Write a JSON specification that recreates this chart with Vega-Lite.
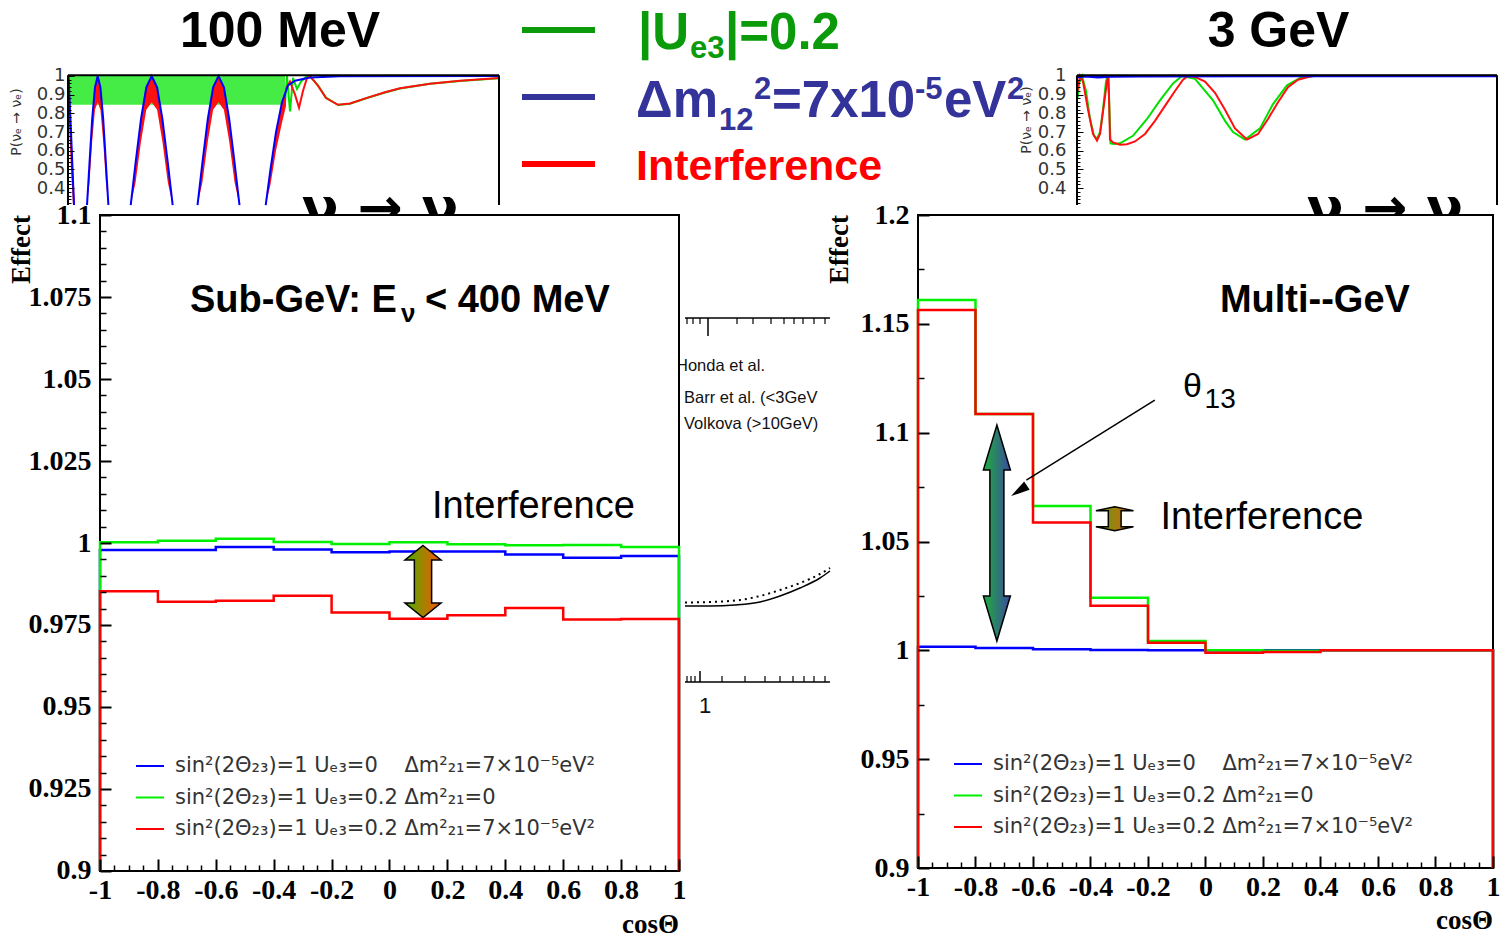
{
"$schema": "https://vega.github.io/schema/vega-lite/v6.json",
"width": 1505, "height": 938, "padding": 0, "autosize": {"type": "none"},
"background": "white",
"config": {"view": {"stroke": null}, "axis": {"zindex": 1}},
"resolve": {"scale": {"x": "independent", "y": "independent", "color": "independent"}, "axis": {"x": "independent", "y": "independent"}, "legend": {"color": "independent"}},
"datasets": {
 "ilBlue": [
  {"seg":"b0","t":0.0012,"v":1.0},{"seg":"b0","t":0.007,"v":0.7},{"seg":"b0","t":0.0139,"v":0.31},
  {"seg":"b1","t":0.0441,"v":0.31},{"seg":"b1","t":0.0499,"v":0.535},{"seg":"b1","t":0.0561,"v":0.77},{"seg":"b1","t":0.0626,"v":0.939},{"seg":"b1","t":0.0689,"v":1.0},{"seg":"b1","t":0.0752,"v":0.939},{"seg":"b1","t":0.0817,"v":0.77},{"seg":"b1","t":0.0879,"v":0.535},{"seg":"b1","t":0.0937,"v":0.31},
  {"seg":"b2","t":0.1455,"v":0.31},{"seg":"b2","t":0.1568,"v":0.535},{"seg":"b2","t":0.1694,"v":0.77},{"seg":"b2","t":0.1817,"v":0.939},{"seg":"b2","t":0.1942,"v":1.0},{"seg":"b2","t":0.2067,"v":0.939},{"seg":"b2","t":0.219,"v":0.77},{"seg":"b2","t":0.2316,"v":0.535},{"seg":"b2","t":0.2429,"v":0.31},
  {"seg":"b3","t":0.3005,"v":0.31},{"seg":"b3","t":0.3118,"v":0.535},{"seg":"b3","t":0.3244,"v":0.77},{"seg":"b3","t":0.3367,"v":0.939},{"seg":"b3","t":0.3492,"v":1.0},{"seg":"b3","t":0.3617,"v":0.939},{"seg":"b3","t":0.374,"v":0.77},{"seg":"b3","t":0.3865,"v":0.535},{"seg":"b3","t":0.3979,"v":0.31},
  {"seg":"b4","t":0.4587,"v":0.31},{"seg":"b4","t":0.4698,"v":0.5},{"seg":"b4","t":0.4826,"v":0.7},{"seg":"b4","t":0.4965,"v":0.86},{"seg":"b4","t":0.5104,"v":0.95},{"seg":"b4","t":0.5267,"v":0.975},{"seg":"b4","t":0.5615,"v":0.992},{"seg":"b4","t":0.6311,"v":0.999},{"seg":"b4","t":1.0,"v":1.0}
 ],
 "ilRedArea": [
  {"seg":"r1","t":0.0441,"hi":0.31,"lo":0.31},{"seg":"r1","t":0.0499,"hi":0.535,"lo":0.43},{"seg":"r1","t":0.0561,"hi":0.77,"lo":0.65},{"seg":"r1","t":0.0626,"hi":0.939,"lo":0.82},{"seg":"r1","t":0.0689,"hi":1.0,"lo":0.86},{"seg":"r1","t":0.0752,"hi":0.939,"lo":0.82},{"seg":"r1","t":0.0817,"hi":0.77,"lo":0.65},{"seg":"r1","t":0.0879,"hi":0.535,"lo":0.43},{"seg":"r1","t":0.0937,"hi":0.31,"lo":0.31},
  {"seg":"r2","t":0.1455,"hi":0.31,"lo":0.31},{"seg":"r2","t":0.1568,"hi":0.535,"lo":0.43},{"seg":"r2","t":0.1694,"hi":0.77,"lo":0.65},{"seg":"r2","t":0.1817,"hi":0.939,"lo":0.82},{"seg":"r2","t":0.1942,"hi":1.0,"lo":0.86},{"seg":"r2","t":0.2067,"hi":0.939,"lo":0.82},{"seg":"r2","t":0.219,"hi":0.77,"lo":0.65},{"seg":"r2","t":0.2316,"hi":0.535,"lo":0.43},{"seg":"r2","t":0.2429,"hi":0.31,"lo":0.31},
  {"seg":"r3","t":0.3005,"hi":0.31,"lo":0.31},{"seg":"r3","t":0.3118,"hi":0.535,"lo":0.43},{"seg":"r3","t":0.3244,"hi":0.77,"lo":0.65},{"seg":"r3","t":0.3367,"hi":0.939,"lo":0.82},{"seg":"r3","t":0.3492,"hi":1.0,"lo":0.86},{"seg":"r3","t":0.3617,"hi":0.939,"lo":0.82},{"seg":"r3","t":0.374,"hi":0.77,"lo":0.65},{"seg":"r3","t":0.3865,"hi":0.535,"lo":0.43},{"seg":"r3","t":0.3979,"hi":0.31,"lo":0.31},
  {"seg":"r4","t":0.4587,"hi":0.31,"lo":0.31},{"seg":"r4","t":0.4698,"hi":0.5,"lo":0.42},{"seg":"r4","t":0.4826,"hi":0.7,"lo":0.6},{"seg":"r4","t":0.4965,"hi":0.86,"lo":0.75},{"seg":"r4","t":0.5058,"hi":0.93,"lo":0.84}
 ],
 "ilRedLine": [
  {"seg":"r0","t":0.0012,"v":0.98},{"seg":"r0","t":0.0046,"v":0.75},{"seg":"r0","t":0.0093,"v":0.5},{"seg":"r0","t":0.0139,"v":0.31},
  {"seg":"rt","t":0.5058,"v":0.93},{"seg":"rt","t":0.5151,"v":0.97},{"seg":"rt","t":0.5267,"v":0.9},{"seg":"rt","t":0.536,"v":0.83},{"seg":"rt","t":0.5452,"v":0.92},{"seg":"rt","t":0.5545,"v":0.99},{"seg":"rt","t":0.5615,"v":1.0},{"seg":"rt","t":0.58,"v":0.948},{"seg":"rt","t":0.5986,"v":0.882},{"seg":"rt","t":0.6265,"v":0.846},{"seg":"rt","t":0.6543,"v":0.853},{"seg":"rt","t":0.6937,"v":0.883},{"seg":"rt","t":0.7355,"v":0.913},{"seg":"rt","t":0.7703,"v":0.934},{"seg":"rt","t":0.8399,"v":0.959},{"seg":"rt","t":0.9095,"v":0.974},{"seg":"rt","t":1.0,"v":0.989}
 ],
 "ilGreen": [
  {"t":0.5035,"v":0.85},{"t":0.5081,"v":1.0},{"t":0.5151,"v":0.81},{"t":0.522,"v":0.99},{"t":0.5313,"v":0.93},{"t":0.5406,"v":0.97},{"t":0.5522,"v":0.995},{"t":0.5615,"v":1.0},{"t":0.58,"v":0.95},{"t":0.5986,"v":0.885},{"t":0.6265,"v":0.845},{"t":0.6543,"v":0.852},{"t":0.6937,"v":0.882},{"t":0.7355,"v":0.912},{"t":0.7703,"v":0.933},{"t":0.8399,"v":0.958},{"t":0.9095,"v":0.973},{"t":1.0,"v":0.988}
 ],
 "irGreen": [
  {"t":0.0012,"v":0.88},{"t":0.0048,"v":0.96},{"t":0.0119,"v":1.0},{"t":0.0214,"v":0.92},{"t":0.031,"v":0.77},{"t":0.0405,"v":0.68},{"t":0.0476,"v":0.665},{"t":0.0548,"v":0.7},{"t":0.0619,"v":0.82},{"t":0.069,"v":0.97},{"t":0.0726,"v":1.0},{"t":0.0762,"v":0.9},{"t":0.0798,"v":0.64},{"t":0.0881,"v":0.637},{"t":0.1024,"v":0.64},{"t":0.1333,"v":0.68},{"t":0.1667,"v":0.77},{"t":0.1976,"v":0.87},{"t":0.2286,"v":0.96},{"t":0.25,"v":1.0},{"t":0.281,"v":0.985},{"t":0.3238,"v":0.87},{"t":0.3524,"v":0.76},{"t":0.3714,"v":0.7},{"t":0.4,"v":0.66},{"t":0.4357,"v":0.72},{"t":0.4667,"v":0.85},{"t":0.5,"v":0.95},{"t":0.531,"v":0.99},{"t":0.5667,"v":1.0},{"t":1.0,"v":1.0}
 ],
 "irRed": [
  {"t":0.0012,"v":0.92},{"t":0.0071,"v":1.0},{"t":0.0143,"v":0.97},{"t":0.0262,"v":0.82},{"t":0.0381,"v":0.69},{"t":0.0476,"v":0.655},{"t":0.0548,"v":0.69},{"t":0.0643,"v":0.85},{"t":0.0714,"v":0.97},{"t":0.075,"v":1.0},{"t":0.0786,"v":0.66},{"t":0.0857,"v":0.645},{"t":0.1024,"v":0.632},{"t":0.119,"v":0.635},{"t":0.1381,"v":0.65},{"t":0.1619,"v":0.69},{"t":0.1857,"v":0.76},{"t":0.2095,"v":0.84},{"t":0.2333,"v":0.92},{"t":0.2524,"v":0.98},{"t":0.2643,"v":1.0},{"t":0.281,"v":0.995},{"t":0.3048,"v":0.97},{"t":0.3286,"v":0.91},{"t":0.3524,"v":0.82},{"t":0.3762,"v":0.72},{"t":0.4048,"v":0.66},{"t":0.431,"v":0.69},{"t":0.4548,"v":0.77},{"t":0.4786,"v":0.86},{"t":0.5024,"v":0.94},{"t":0.5262,"v":0.98},{"t":0.5595,"v":1.0},{"t":1.0,"v":1.0}
 ],
 "irBlue": [
  {"t":0.0012,"v":0.995},{"t":0.02,"v":0.998},{"t":0.05,"v":0.993},{"t":0.08,"v":0.997},{"t":0.15,"v":0.999},{"t":1.0,"v":1.0}
 ],
 "pL": [
  {"s":"A","k":0,"x":-1,"y":0.9},{"s":"A","k":1,"x":-1,"y":0.9979},{"s":"A","k":2,"x":-0.8,"y":0.9979},{"s":"A","k":3,"x":-0.6,"y":0.9988},{"s":"A","k":4,"x":-0.4,"y":0.998},{"s":"A","k":5,"x":-0.2,"y":0.9972},{"s":"A","k":6,"x":0,"y":0.9974},{"s":"A","k":7,"x":0.2,"y":0.9974},{"s":"A","k":8,"x":0.4,"y":0.9965},{"s":"A","k":9,"x":0.6,"y":0.9955},{"s":"A","k":10,"x":0.8,"y":0.996},{"s":"A","k":11,"x":1,"y":0.996},{"s":"A","k":12,"x":1,"y":0.9},
  {"s":"B","k":0,"x":-1,"y":0.9},{"s":"B","k":1,"x":-1,"y":1.0002},{"s":"B","k":2,"x":-0.8,"y":1.0007},{"s":"B","k":3,"x":-0.6,"y":1.0013},{"s":"B","k":4,"x":-0.4,"y":1.0003},{"s":"B","k":5,"x":-0.2,"y":0.9997},{"s":"B","k":6,"x":0,"y":1.0002},{"s":"B","k":7,"x":0.2,"y":0.9996},{"s":"B","k":8,"x":0.4,"y":0.9993},{"s":"B","k":9,"x":0.6,"y":0.9994},{"s":"B","k":10,"x":0.8,"y":0.9988},{"s":"B","k":11,"x":1,"y":0.9988},{"s":"B","k":12,"x":1,"y":0.9},
  {"s":"C","k":0,"x":-1,"y":0.9},{"s":"C","k":1,"x":-1,"y":0.9853},{"s":"C","k":2,"x":-0.8,"y":0.9821},{"s":"C","k":3,"x":-0.6,"y":0.9824},{"s":"C","k":4,"x":-0.4,"y":0.9839},{"s":"C","k":5,"x":-0.2,"y":0.9788},{"s":"C","k":6,"x":0,"y":0.9769},{"s":"C","k":7,"x":0.2,"y":0.978},{"s":"C","k":8,"x":0.4,"y":0.9802},{"s":"C","k":9,"x":0.6,"y":0.9767},{"s":"C","k":10,"x":0.8,"y":0.9768},{"s":"C","k":11,"x":1,"y":0.9768},{"s":"C","k":12,"x":1,"y":0.9}
 ],
 "pR": [
  {"s":"A","k":0,"x":-1,"y":0.9},{"s":"A","k":1,"x":-1,"y":1.0017},{"s":"A","k":2,"x":-0.8,"y":1.0011},{"s":"A","k":3,"x":-0.6,"y":1.0005},{"s":"A","k":4,"x":-0.4,"y":1.0002},{"s":"A","k":5,"x":-0.2,"y":1.0},{"s":"A","k":6,"x":0,"y":1.0},{"s":"A","k":7,"x":0.2,"y":1.0},{"s":"A","k":8,"x":0.4,"y":1.0},{"s":"A","k":9,"x":0.6,"y":1.0},{"s":"A","k":10,"x":0.8,"y":1.0},{"s":"A","k":11,"x":1,"y":1.0},{"s":"A","k":12,"x":1,"y":0.9},
  {"s":"B","k":0,"x":-1,"y":0.9},{"s":"B","k":1,"x":-1,"y":1.161},{"s":"B","k":2,"x":-0.8,"y":1.1086},{"s":"B","k":3,"x":-0.6,"y":1.0663},{"s":"B","k":4,"x":-0.4,"y":1.0242},{"s":"B","k":5,"x":-0.2,"y":1.0043},{"s":"B","k":6,"x":0,"y":1.0},{"s":"B","k":7,"x":0.2,"y":0.9998},{"s":"B","k":8,"x":0.4,"y":1.0},{"s":"B","k":9,"x":0.6,"y":1.0},{"s":"B","k":10,"x":0.8,"y":1.0},{"s":"B","k":11,"x":1,"y":1.0},{"s":"B","k":12,"x":1,"y":0.9},
  {"s":"C","k":0,"x":-1,"y":0.9},{"s":"C","k":1,"x":-1,"y":1.1563},{"s":"C","k":2,"x":-0.8,"y":1.1086},{"s":"C","k":3,"x":-0.6,"y":1.0587},{"s":"C","k":4,"x":-0.4,"y":1.0205},{"s":"C","k":5,"x":-0.2,"y":1.0035},{"s":"C","k":6,"x":0,"y":0.9989},{"s":"C","k":7,"x":0.2,"y":0.9992},{"s":"C","k":8,"x":0.4,"y":1.0},{"s":"C","k":9,"x":0.6,"y":1.0},{"s":"C","k":10,"x":0.8,"y":1.0},{"s":"C","k":11,"x":1,"y":1.0},{"s":"C","k":12,"x":1,"y":0.9}
 ],
 "fragSolid": [{"fx":68.5,"fy":60.6},{"fx":71,"fy":60.6},{"fx":73.5,"fy":60.5},{"fx":76,"fy":60.2},{"fx":78,"fy":59.6},{"fx":80,"fy":58.8},{"fx":82,"fy":57.8},{"fx":83,"fy":57.1}],
 "fragDot": [{"fx":68.5,"fy":60.25},{"fx":71,"fy":60.2},{"fx":74,"fy":60.0},{"fx":76,"fy":59.6},{"fx":78,"fy":59.0},{"fx":80,"fy":58.3},{"fx":82,"fy":57.4},{"fx":83,"fy":56.8}],
 "fragTop": [{"fx":68.7},{"fx":69.3},{"fx":70.0},{"fx":73.7},{"fx":75.3},{"fx":77.1},{"fx":78.4},{"fx":79.4},{"fx":80.3},{"fx":81.4},{"fx":82.5}],
 "fragBot": [{"fx":68.7},{"fx":69.1},{"fx":69.5},{"fx":72.2},{"fx":74.5},{"fx":76.5},{"fx":78.0},{"fx":79.3},{"fx":80.4},{"fx":81.4},{"fx":82.5}]
},
"layer": [
 {
  "resolve": {"axis": {"x": "independent", "y": "independent"}},
  "layer": [
   {"data": {"values": [{}]}, "mark": {"type": "rect", "fill": "#45ec45"},
    "encoding": {"x": {"datum": 0.0015, "type": "quantitative", "scale": {"domain": [-0.15777, 3.33411], "nice": false, "zero": false}, "axis": null}, "x2": {"datum": 0.5035},
     "y": {"datum": 0.846, "type": "quantitative", "scale": {"domain": [-3.6096, 1.4064], "nice": false, "zero": false}, "axis": null}, "y2": {"datum": 1.0}}},
   {"data": {"name": "ilGreen"}, "mark": {"type": "line", "color": "#00e000", "strokeWidth": 2},
    "encoding": {"x": {"field": "t", "type": "quantitative", "scale": {"domain": [-0.15777, 3.33411], "nice": false, "zero": false}, "axis": null},
     "y": {"field": "v", "type": "quantitative", "scale": {"domain": [-3.6096, 1.4064], "nice": false, "zero": false}, "axis": null}}},
   {"data": {"name": "ilRedArea"}, "mark": {"type": "area", "color": "#ff1010"},
    "encoding": {"x": {"field": "t", "type": "quantitative", "scale": {"domain": [-0.15777, 3.33411], "nice": false, "zero": false}, "axis": null},
     "y": {"field": "hi", "type": "quantitative", "scale": {"domain": [-3.6096, 1.4064], "nice": false, "zero": false}, "axis": null}, "y2": {"field": "lo"}, "detail": {"field": "seg"}}},
   {"data": {"name": "ilRedLine"}, "mark": {"type": "line", "color": "#ff1010", "strokeWidth": 2},
    "encoding": {"x": {"field": "t", "type": "quantitative", "scale": {"domain": [-0.15777, 3.33411], "nice": false, "zero": false}, "axis": null},
     "y": {"field": "v", "type": "quantitative", "scale": {"domain": [-3.6096, 1.4064], "nice": false, "zero": false}, "axis": null}, "detail": {"field": "seg"}}},
   {"data": {"name": "ilBlue"}, "mark": {"type": "line", "color": "#0000ff", "strokeWidth": 2},
    "encoding": {"x": {"field": "t", "type": "quantitative", "scale": {"domain": [-0.15777, 3.33411], "nice": false, "zero": false}, "axis": null},
     "y": {"field": "v", "type": "quantitative", "scale": {"domain": [-3.6096, 1.4064], "nice": false, "zero": false}, "axis": null}, "detail": {"field": "seg"}}},
   {"data": {"values": [{}]}, "mark": {"type": "rule", "color": "black", "strokeWidth": 2},
    "encoding": {"x": {"datum": 0, "type": "quantitative", "scale": {"domain": [-0.15777, 3.33411], "nice": false, "zero": false}, "axis": null}, "x2": {"datum": 1},
     "y": {"datum": 1.004, "type": "quantitative", "scale": {"domain": [-3.6096, 1.4064], "nice": false, "zero": false}, "axis": null}}},
   {"data": {"values": [{}]}, "mark": {"type": "rule", "color": "black", "strokeWidth": 2},
    "encoding": {"x": {"datum": 1, "type": "quantitative", "scale": {"domain": [-0.15777, 3.33411], "nice": false, "zero": false}, "axis": null},
     "y": {"datum": 0.31, "type": "quantitative", "scale": {"domain": [-3.6096, 1.4064], "nice": false, "zero": false},
       "axis": {"orient": "left", "offset": -68, "zindex": 2, "values": [0.32,0.34,0.36,0.38,0.42,0.44,0.46,0.48,0.52,0.54,0.56,0.58,0.62,0.64,0.66,0.68,0.72,0.74,0.76,0.78,0.82,0.84,0.86,0.88,0.92,0.94,0.96,0.98], "labels": false, "tickSize": -3, "tickWidth": 1, "tickColor": "black", "domain": false, "grid": false, "title": null}},
     "y2": {"datum": 1.004}}},
   {"data": {"values": [{}]}, "mark": {"type": "rule", "color": "black", "strokeWidth": 2},
    "encoding": {"x": {"datum": 0, "type": "quantitative", "scale": {"domain": [-0.15777, 3.33411], "nice": false, "zero": false}, "axis": null},
     "y": {"datum": 0.31, "type": "quantitative", "scale": {"domain": [-3.6096, 1.4064], "nice": false, "zero": false},
       "axis": {"orient": "left", "offset": -68, "zindex": 2, "values": [0.4,0.5,0.6,0.7,0.8,0.9,1], "labelExpr": "'' + datum.value", "tickSize": -6, "tickWidth": 1, "tickColor": "black", "labelFont": "DejaVu Sans", "labelFontSize": 18, "labelColor": "#333333", "labelPadding": 9, "labelFlush": false, "labelOverlap": false, "domain": false, "grid": false, "title": null}},
     "y2": {"datum": 1.004}}},
   {"data": {"values": [{}]}, "mark": {"type": "text", "text": "ν → ν", "font": "DejaVu Sans", "fontWeight": "bold", "fontSize": 54, "align": "center", "baseline": "alphabetic", "color": "black"},
    "encoding": {"x": {"datum": 0.724, "type": "quantitative", "scale": {"domain": [-0.15777, 3.33411], "nice": false, "zero": false}, "axis": null},
     "y": {"datum": 0.2, "type": "quantitative", "scale": {"domain": [-3.6096, 1.4064], "nice": false, "zero": false}, "axis": null}}}
  ]
 },
 {
  "resolve": {"axis": {"x": "independent", "y": "independent"}},
  "layer": [
   {"data": {"name": "irGreen"}, "mark": {"type": "line", "color": "#00e000", "strokeWidth": 2},
    "encoding": {"x": {"field": "t", "type": "quantitative", "scale": {"domain": [-2.56429, 1.01905], "nice": false, "zero": false}, "axis": null},
     "y": {"field": "v", "type": "quantitative", "scale": {"domain": [-3.6096, 1.4064], "nice": false, "zero": false}, "axis": null}}},
   {"data": {"name": "irRed"}, "mark": {"type": "line", "color": "#ff1010", "strokeWidth": 2},
    "encoding": {"x": {"field": "t", "type": "quantitative", "scale": {"domain": [-2.56429, 1.01905], "nice": false, "zero": false}, "axis": null},
     "y": {"field": "v", "type": "quantitative", "scale": {"domain": [-3.6096, 1.4064], "nice": false, "zero": false}, "axis": null}}},
   {"data": {"name": "irBlue"}, "mark": {"type": "line", "color": "#0000ff", "strokeWidth": 2.5},
    "encoding": {"x": {"field": "t", "type": "quantitative", "scale": {"domain": [-2.56429, 1.01905], "nice": false, "zero": false}, "axis": null},
     "y": {"field": "v", "type": "quantitative", "scale": {"domain": [-3.6096, 1.4064], "nice": false, "zero": false}, "axis": null}}},
   {"data": {"values": [{}]}, "mark": {"type": "rule", "color": "black", "strokeWidth": 2},
    "encoding": {"x": {"datum": 0, "type": "quantitative", "scale": {"domain": [-2.56429, 1.01905], "nice": false, "zero": false}, "axis": null}, "x2": {"datum": 1},
     "y": {"datum": 1.004, "type": "quantitative", "scale": {"domain": [-3.6096, 1.4064], "nice": false, "zero": false}, "axis": null}}},
   {"data": {"values": [{}]}, "mark": {"type": "rule", "color": "black", "strokeWidth": 2},
    "encoding": {"x": {"datum": 1, "type": "quantitative", "scale": {"domain": [-2.56429, 1.01905], "nice": false, "zero": false}, "axis": null},
     "y": {"datum": 0.31, "type": "quantitative", "scale": {"domain": [-3.6096, 1.4064], "nice": false, "zero": false},
       "axis": {"orient": "left", "offset": -1077, "zindex": 2, "values": [0.32,0.34,0.36,0.38,0.42,0.44,0.46,0.48,0.52,0.54,0.56,0.58,0.62,0.64,0.66,0.68,0.72,0.74,0.76,0.78,0.82,0.84,0.86,0.88,0.92,0.94,0.96,0.98], "labels": false, "tickSize": -3, "tickWidth": 1, "tickColor": "black", "domain": false, "grid": false, "title": null}},
     "y2": {"datum": 1.004}}},
   {"data": {"values": [{}]}, "mark": {"type": "rule", "color": "black", "strokeWidth": 2},
    "encoding": {"x": {"datum": 0, "type": "quantitative", "scale": {"domain": [-2.56429, 1.01905], "nice": false, "zero": false}, "axis": null},
     "y": {"datum": 0.31, "type": "quantitative", "scale": {"domain": [-3.6096, 1.4064], "nice": false, "zero": false},
       "axis": {"orient": "left", "offset": -1077, "zindex": 2, "values": [0.4,0.5,0.6,0.7,0.8,0.9,1], "labelExpr": "'' + datum.value", "tickSize": -6, "tickWidth": 1, "tickColor": "black", "labelFont": "DejaVu Sans", "labelFontSize": 18, "labelColor": "#333333", "labelPadding": 17, "labelFlush": false, "labelOverlap": false, "domain": false, "grid": false, "title": null}},
     "y2": {"datum": 1.004}}},
   {"data": {"values": [{}]}, "mark": {"type": "text", "text": "ν → ν", "font": "DejaVu Sans", "fontWeight": "bold", "fontSize": 54, "align": "center", "baseline": "alphabetic", "color": "black"},
    "encoding": {"x": {"datum": 0.733, "type": "quantitative", "scale": {"domain": [-2.56429, 1.01905], "nice": false, "zero": false}, "axis": null},
     "y": {"datum": 0.2, "type": "quantitative", "scale": {"domain": [-3.6096, 1.4064], "nice": false, "zero": false}, "axis": null}}}
  ]
 },
 {
  "layer": [
   {"data": {"values": [{}]}, "mark": {"type": "text", "text": "100 MeV", "font": "Liberation Sans", "fontWeight": "bold", "fontSize": 50, "align": "center", "baseline": "alphabetic", "color": "black"},
    "encoding": {"x": {"datum": 28.0, "type": "quantitative", "scale": {"domain": [0, 150.5], "nice": false, "zero": false}, "axis": null},
     "y": {"datum": 4.7, "type": "quantitative", "scale": {"domain": [0, 93.8], "nice": false, "zero": false, "reverse": true}, "axis": null}}},
   {"data": {"values": [{}]}, "mark": {"type": "text", "text": "3 GeV", "font": "Liberation Sans", "fontWeight": "bold", "fontSize": 50, "align": "center", "baseline": "alphabetic", "color": "black"},
    "encoding": {"x": {"datum": 127.85, "type": "quantitative", "axis": null}, "y": {"datum": 4.7, "type": "quantitative", "axis": null}}},
   {"data": {"values": [{}]}, "mark": {"type": "rule", "color": "#0a9a0a", "strokeWidth": 6},
    "encoding": {"x": {"datum": 52.2, "type": "quantitative", "axis": null}, "x2": {"datum": 59.5}, "y": {"datum": 3.0, "type": "quantitative", "axis": null}}},
   {"data": {"values": [{}]}, "mark": {"type": "rule", "color": "#333399", "strokeWidth": 6},
    "encoding": {"x": {"datum": 52.2, "type": "quantitative", "axis": null}, "x2": {"datum": 59.5}, "y": {"datum": 9.7, "type": "quantitative", "axis": null}}},
   {"data": {"values": [{}]}, "mark": {"type": "rule", "color": "#ff0000", "strokeWidth": 6},
    "encoding": {"x": {"datum": 52.2, "type": "quantitative", "axis": null}, "x2": {"datum": 59.5}, "y": {"datum": 16.4, "type": "quantitative", "axis": null}}},
   {"data": {"values": [{}]}, "mark": {"type": "text", "text": "|U", "font": "Liberation Sans", "fontWeight": "bold", "fontSize": 51, "align": "left", "baseline": "alphabetic", "color": "#0a9a0a"},
    "encoding": {"x": {"datum": 63.8, "type": "quantitative", "axis": null}, "y": {"datum": 4.9, "type": "quantitative", "axis": null}}},
   {"data": {"values": [{}]}, "mark": {"type": "text", "text": "e3", "font": "Liberation Sans", "fontWeight": "bold", "fontSize": 31, "align": "left", "baseline": "alphabetic", "color": "#0a9a0a"},
    "encoding": {"x": {"datum": 69.0, "type": "quantitative", "axis": null}, "y": {"datum": 5.8, "type": "quantitative", "axis": null}}},
   {"data": {"values": [{}]}, "mark": {"type": "text", "text": "|=0.2", "font": "Liberation Sans", "fontWeight": "bold", "fontSize": 51, "align": "left", "baseline": "alphabetic", "color": "#0a9a0a"},
    "encoding": {"x": {"datum": 72.5, "type": "quantitative", "axis": null}, "y": {"datum": 4.9, "type": "quantitative", "axis": null}}},
   {"data": {"values": [{}]}, "mark": {"type": "text", "text": "Δm", "font": "Liberation Sans", "fontWeight": "bold", "fontSize": 51, "align": "left", "baseline": "alphabetic", "color": "#333399"},
    "encoding": {"x": {"datum": 63.6, "type": "quantitative", "axis": null}, "y": {"datum": 11.7, "type": "quantitative", "axis": null}}},
   {"data": {"values": [{}]}, "mark": {"type": "text", "text": "12", "font": "Liberation Sans", "fontWeight": "bold", "fontSize": 31, "align": "left", "baseline": "alphabetic", "color": "#333399"},
    "encoding": {"x": {"datum": 71.9, "type": "quantitative", "axis": null}, "y": {"datum": 13.0, "type": "quantitative", "axis": null}}},
   {"data": {"values": [{}]}, "mark": {"type": "text", "text": "2", "font": "Liberation Sans", "fontWeight": "bold", "fontSize": 31, "align": "left", "baseline": "alphabetic", "color": "#333399"},
    "encoding": {"x": {"datum": 75.4, "type": "quantitative", "axis": null}, "y": {"datum": 9.9, "type": "quantitative", "axis": null}}},
   {"data": {"values": [{}]}, "mark": {"type": "text", "text": "=7x10", "font": "Liberation Sans", "fontWeight": "bold", "fontSize": 51, "align": "left", "baseline": "alphabetic", "color": "#333399"},
    "encoding": {"x": {"datum": 77.2, "type": "quantitative", "axis": null}, "y": {"datum": 11.7, "type": "quantitative", "axis": null}}},
   {"data": {"values": [{}]}, "mark": {"type": "text", "text": "-5", "font": "Liberation Sans", "fontWeight": "bold", "fontSize": 31, "align": "left", "baseline": "alphabetic", "color": "#333399"},
    "encoding": {"x": {"datum": 91.5, "type": "quantitative", "axis": null}, "y": {"datum": 9.9, "type": "quantitative", "axis": null}}},
   {"data": {"values": [{}]}, "mark": {"type": "text", "text": "eV", "font": "Liberation Sans", "fontWeight": "bold", "fontSize": 51, "align": "left", "baseline": "alphabetic", "color": "#333399"},
    "encoding": {"x": {"datum": 94.4, "type": "quantitative", "axis": null}, "y": {"datum": 11.7, "type": "quantitative", "axis": null}}},
   {"data": {"values": [{}]}, "mark": {"type": "text", "text": "2", "font": "Liberation Sans", "fontWeight": "bold", "fontSize": 31, "align": "left", "baseline": "alphabetic", "color": "#333399"},
    "encoding": {"x": {"datum": 100.7, "type": "quantitative", "axis": null}, "y": {"datum": 9.9, "type": "quantitative", "axis": null}}},
   {"data": {"values": [{}]}, "mark": {"type": "text", "text": "Interference", "font": "Liberation Sans", "fontWeight": "bold", "fontSize": 43, "align": "left", "baseline": "alphabetic", "color": "#ff0000"},
    "encoding": {"x": {"datum": 63.6, "type": "quantitative", "axis": null}, "y": {"datum": 18.0, "type": "quantitative", "axis": null}}},
   {"data": {"values": [{}]}, "mark": {"type": "text", "text": "P(νₑ → νₑ)", "font": "DejaVu Sans", "fontSize": 14, "angle": 270, "align": "center", "baseline": "middle", "color": "#333333"},
    "encoding": {"x": {"datum": 1.7, "type": "quantitative", "axis": null}, "y": {"datum": 12.2, "type": "quantitative", "axis": null}}},
   {"data": {"values": [{}]}, "mark": {"type": "text", "text": "P(νₑ → νₑ)", "font": "DejaVu Sans", "fontSize": 14, "angle": 270, "align": "center", "baseline": "middle", "color": "#333333"},
    "encoding": {"x": {"datum": 102.7, "type": "quantitative", "axis": null}, "y": {"datum": 12.0, "type": "quantitative", "axis": null}}},
   {"data": {"values": [{}]}, "mark": {"type": "text", "text": "Honda et al.", "font": "Liberation Sans", "fontSize": 16.5, "align": "left", "baseline": "alphabetic", "color": "#111111"},
    "encoding": {"x": {"datum": 67.6, "type": "quantitative", "axis": null}, "y": {"datum": 37.1, "type": "quantitative", "axis": null}}},
   {"data": {"values": [{}]}, "mark": {"type": "text", "text": "Barr et al. (<3GeV", "font": "Liberation Sans", "fontSize": 16.5, "align": "left", "baseline": "alphabetic", "color": "#111111"},
    "encoding": {"x": {"datum": 68.4, "type": "quantitative", "axis": null}, "y": {"datum": 40.3, "type": "quantitative", "axis": null}}},
   {"data": {"values": [{}]}, "mark": {"type": "text", "text": "Volkova (>10GeV)", "font": "Liberation Sans", "fontSize": 16.5, "align": "left", "baseline": "alphabetic", "color": "#111111"},
    "encoding": {"x": {"datum": 68.4, "type": "quantitative", "axis": null}, "y": {"datum": 42.9, "type": "quantitative", "axis": null}}},
   {"data": {"name": "fragSolid"}, "mark": {"type": "line", "color": "black", "strokeWidth": 1.5, "interpolate": "monotone"},
    "encoding": {"x": {"field": "fx", "type": "quantitative", "axis": null}, "y": {"field": "fy", "type": "quantitative", "axis": null}}},
   {"data": {"name": "fragDot"}, "mark": {"type": "line", "color": "black", "strokeWidth": 2, "strokeDash": [2, 4], "interpolate": "monotone"},
    "encoding": {"x": {"field": "fx", "type": "quantitative", "axis": null}, "y": {"field": "fy", "type": "quantitative", "axis": null}}},
   {"data": {"values": [{}]}, "mark": {"type": "rule", "color": "black", "strokeWidth": 1.5},
    "encoding": {"x": {"datum": 68.5, "type": "quantitative", "axis": null}, "x2": {"datum": 83.0}, "y": {"datum": 31.8, "type": "quantitative", "axis": null}}},
   {"data": {"values": [{}]}, "mark": {"type": "rule", "color": "black", "strokeWidth": 1.5},
    "encoding": {"x": {"datum": 68.5, "type": "quantitative", "axis": null}, "x2": {"datum": 83.0}, "y": {"datum": 68.2, "type": "quantitative", "axis": null}}},
   {"data": {"name": "fragTop"}, "mark": {"type": "rule", "color": "black", "strokeWidth": 1.2},
    "encoding": {"x": {"field": "fx", "type": "quantitative", "axis": null}, "y": {"datum": 31.8, "type": "quantitative", "axis": null}, "y2": {"datum": 32.4}}},
   {"data": {"values": [{}]}, "mark": {"type": "rule", "color": "black", "strokeWidth": 1.5},
    "encoding": {"x": {"datum": 70.8, "type": "quantitative", "axis": null}, "y": {"datum": 31.8, "type": "quantitative", "axis": null}, "y2": {"datum": 33.6}}},
   {"data": {"name": "fragBot"}, "mark": {"type": "rule", "color": "black", "strokeWidth": 1.2},
    "encoding": {"x": {"field": "fx", "type": "quantitative", "axis": null}, "y": {"datum": 67.6, "type": "quantitative", "axis": null}, "y2": {"datum": 68.2}}},
   {"data": {"values": [{}]}, "mark": {"type": "rule", "color": "black", "strokeWidth": 1.5},
    "encoding": {"x": {"datum": 70.0, "type": "quantitative", "axis": null}, "y": {"datum": 67.1, "type": "quantitative", "axis": null}, "y2": {"datum": 68.2}}},
   {"data": {"values": [{}]}, "mark": {"type": "text", "text": "1", "font": "Liberation Sans", "fontSize": 22, "align": "center", "baseline": "alphabetic", "color": "#111111"},
    "encoding": {"x": {"datum": 70.5, "type": "quantitative", "axis": null}, "y": {"datum": 71.3, "type": "quantitative", "axis": null}}}
  ]
 },
 {
  "resolve": {"axis": {"x": "independent", "y": "independent"}},
  "layer": [
   {"data": {"values": [{}]}, "mark": {"type": "rect", "fill": "white", "stroke": "black", "strokeWidth": 2},
    "encoding": {
     "x": {"datum": -1, "type": "quantitative", "scale": {"domain": [-1.34542, 3.8532], "nice": false, "zero": false},
       "axis": {"orient": "bottom", "offset": -67, "zindex": 2, "values": [-0.95,-0.9,-0.85,-0.75,-0.7,-0.65,-0.55,-0.5,-0.45,-0.35,-0.3,-0.25,-0.15,-0.1,-0.05,0.05,0.1,0.15,0.25,0.3,0.35,0.45,0.5,0.55,0.65,0.7,0.75,0.85,0.9,0.95], "labels": false, "tickSize": -6, "tickWidth": 1.5, "tickColor": "black", "domain": false, "grid": false, "title": null}},
     "x2": {"datum": 1},
     "y": {"datum": 0.9, "type": "quantitative", "scale": {"domain": [0.879573, 1.165549], "nice": false, "zero": false},
       "axis": {"orient": "left", "offset": -100, "zindex": 2, "values": [0.905,0.91,0.915,0.92,0.93,0.935,0.94,0.945,0.955,0.96,0.965,0.97,0.98,0.985,0.99,0.995,1.005,1.01,1.015,1.02,1.03,1.035,1.04,1.045,1.055,1.06,1.065,1.07,1.08,1.085,1.09,1.095], "labels": false, "tickSize": -6, "tickWidth": 1.5, "tickColor": "black", "domain": false, "grid": false, "title": null}},
     "y2": {"datum": 1.1}}},
   {"data": {"name": "pL"}, "mark": {"type": "line", "interpolate": "step-after", "strokeWidth": 2.5},
    "encoding": {
     "x": {"field": "x", "type": "quantitative", "scale": {"domain": [-1.34542, 3.8532], "nice": false, "zero": false},
       "axis": {"orient": "bottom", "offset": -67, "zindex": 2, "values": [-1,-0.8,-0.6,-0.4,-0.2,0,0.2,0.4,0.6,0.8,1], "labelExpr": "'' + datum.value", "tickSize": -12, "tickWidth": 2, "tickColor": "black", "labelFont": "Liberation Serif", "labelFontWeight": "bold", "labelFontSize": 28, "labelColor": "black", "labelPadding": 17, "labelFlush": false, "labelOverlap": false, "domain": false, "grid": false, "title": null}},
     "y": {"field": "y", "type": "quantitative", "scale": {"domain": [0.879573, 1.165549], "nice": false, "zero": false},
       "axis": {"orient": "left", "offset": -100, "zindex": 2, "values": [0.9,0.925,0.95,0.975,1,1.025,1.05,1.075,1.1], "labelExpr": "'' + datum.value", "tickSize": -11, "tickWidth": 2, "tickColor": "black", "labelFont": "Liberation Serif", "labelFontWeight": "bold", "labelFontSize": 28, "labelColor": "black", "labelPadding": 20, "labelFlush": false, "labelOverlap": false, "domain": false, "grid": false, "title": null}},
     "color": {"field": "s", "type": "nominal", "scale": {"domain": ["A", "B", "C"], "range": ["#0000ff", "#00f000", "#ff0000"]},
       "legend": {"orient": "none", "legendX": 135, "legendY": 751, "title": null, "symbolType": "stroke", "symbolSize": 784, "symbolStrokeWidth": 2, "labelFont": "DejaVu Sans", "labelFontSize": 21, "labelColor": "#333333", "labelLimit": 900, "labelOffset": 10, "rowPadding": 6.5, "padding": 0,
         "labelExpr": "datum.value == 'A' ? 'sin²(2Θ₂₃)=1 Uₑ₃=0\u00a0\u00a0\u00a0\u00a0Δm²₂₁=7×10⁻⁵eV²' : datum.value == 'B' ? 'sin²(2Θ₂₃)=1 Uₑ₃=0.2 Δm²₂₁=0' : 'sin²(2Θ₂₃)=1 Uₑ₃=0.2 Δm²₂₁=7×10⁻⁵eV²'"}},
     "order": {"field": "k", "type": "quantitative"}}},
   {"data": {"values": [{}]}, "mark": {"type": "text", "text": "Sub-GeV: E", "font": "Liberation Sans", "fontWeight": "bold", "fontSize": 38, "align": "left", "baseline": "alphabetic", "color": "black"},
    "encoding": {"x": {"datum": -0.6891, "type": "quantitative", "axis": null}, "y": {"datum": 1.0704, "type": "quantitative", "axis": null}}},
   {"data": {"values": [{}]}, "mark": {"type": "text", "text": "ν", "font": "Liberation Sans", "fontWeight": "bold", "fontSize": 26, "align": "left", "baseline": "alphabetic", "color": "black"},
    "encoding": {"x": {"datum": 0.0397, "type": "quantitative", "axis": null}, "y": {"datum": 1.0674, "type": "quantitative", "axis": null}}},
   {"data": {"values": [{}]}, "mark": {"type": "text", "text": "< 400 MeV", "font": "Liberation Sans", "fontWeight": "bold", "fontSize": 38, "align": "left", "baseline": "alphabetic", "color": "black"},
    "encoding": {"x": {"datum": 0.1226, "type": "quantitative", "axis": null}, "y": {"datum": 1.0704, "type": "quantitative", "axis": null}}},
   {"data": {"values": [{}]}, "mark": {"type": "text", "text": "Interference", "font": "Liberation Sans", "fontSize": 38, "align": "left", "baseline": "alphabetic", "color": "black"},
    "encoding": {"x": {"datum": 0.1468, "type": "quantitative", "axis": null}, "y": {"datum": 1.0076, "type": "quantitative", "axis": null}}},
   {"data": {"values": [{}]}, "mark": {"type": "point", "shape": "M0,-1L0.5,-0.6L0.24,-0.6L0.24,0.6L0.5,0.6L0,1L-0.5,0.6L-0.24,0.6L-0.24,-0.6L-0.5,-0.6Z", "size": 5184, "filled": true, "opacity": 1, "stroke": "black", "strokeWidth": 1.5,
     "fill": {"gradient": "linear", "x1": 0, "y1": 0, "x2": 1, "y2": 0, "stops": [{"offset": 0, "color": "#44b000"}, {"offset": 1, "color": "#ff5500"}]}},
    "encoding": {"x": {"datum": 0.1157, "type": "quantitative", "axis": null}, "y": {"datum": 0.98826, "type": "quantitative", "axis": null}}},
   {"data": {"values": [{}]}, "mark": {"type": "text", "text": "Effect", "font": "Liberation Serif", "fontWeight": "bold", "fontSize": 27, "angle": 270, "align": "right", "baseline": "middle", "color": "black"},
    "encoding": {"x": {"datum": -1.2694, "type": "quantitative", "axis": null}, "y": {"datum": 1.1, "type": "quantitative", "axis": null}}},
   {"data": {"values": [{}]}, "mark": {"type": "text", "text": "cosΘ", "font": "Liberation Serif", "fontWeight": "bold", "fontSize": 27, "align": "right", "baseline": "alphabetic", "color": "black"},
    "encoding": {"x": {"datum": 1.0, "type": "quantitative", "axis": null}, "y": {"datum": 0.8811, "type": "quantitative", "axis": null}}}
  ]
 },
 {
  "resolve": {"axis": {"x": "independent", "y": "independent"}},
  "layer": [
   {"data": {"values": [{}]}, "mark": {"type": "rect", "fill": "white", "stroke": "black", "strokeWidth": 2},
    "encoding": {
     "x": {"datum": -1, "type": "quantitative", "scale": {"domain": [-4.193043, 1.04174], "nice": false, "zero": false},
       "axis": {"orient": "bottom", "offset": -70, "zindex": 2, "values": [-0.95,-0.9,-0.85,-0.75,-0.7,-0.65,-0.55,-0.5,-0.45,-0.35,-0.3,-0.25,-0.15,-0.1,-0.05,0.05,0.1,0.15,0.25,0.3,0.35,0.45,0.5,0.55,0.65,0.7,0.75,0.85,0.9,0.95], "labels": false, "tickSize": -6, "tickWidth": 1.5, "tickColor": "black", "domain": false, "grid": false, "title": null}},
     "x2": {"datum": 1},
     "y": {"datum": 0.9, "type": "quantitative", "scale": {"domain": [0.867841, 1.298775], "nice": false, "zero": false},
       "axis": {"orient": "left", "offset": -918, "zindex": 2, "values": [0.925,0.975,1.025,1.075,1.125,1.175], "labels": false, "tickSize": -6, "tickWidth": 1.5, "tickColor": "black", "domain": false, "grid": false, "title": null}},
     "y2": {"datum": 1.2}}},
   {"data": {"name": "pR"}, "mark": {"type": "line", "interpolate": "step-after", "strokeWidth": 2.5},
    "encoding": {
     "x": {"field": "x", "type": "quantitative", "scale": {"domain": [-4.193043, 1.04174], "nice": false, "zero": false},
       "axis": {"orient": "bottom", "offset": -70, "zindex": 2, "values": [-1,-0.8,-0.6,-0.4,-0.2,0,0.2,0.4,0.6,0.8,1], "labelExpr": "'' + datum.value", "tickSize": -12, "tickWidth": 2, "tickColor": "black", "labelFont": "Liberation Serif", "labelFontWeight": "bold", "labelFontSize": 28, "labelColor": "black", "labelPadding": 17, "labelFlush": false, "labelOverlap": false, "domain": false, "grid": false, "title": null}},
     "y": {"field": "y", "type": "quantitative", "scale": {"domain": [0.867841, 1.298775], "nice": false, "zero": false},
       "axis": {"orient": "left", "offset": -918, "zindex": 2, "values": [0.9,0.95,1,1.05,1.1,1.15,1.2], "labelExpr": "'' + datum.value", "tickSize": -11, "tickWidth": 2, "tickColor": "black", "labelFont": "Liberation Serif", "labelFontWeight": "bold", "labelFontSize": 28, "labelColor": "black", "labelPadding": 20, "labelFlush": false, "labelOverlap": false, "domain": false, "grid": false, "title": null}},
     "color": {"field": "s", "type": "nominal", "scale": {"domain": ["A", "B", "C"], "range": ["#0000ff", "#00f000", "#ff0000"]},
       "legend": {"orient": "none", "legendX": 953, "legendY": 749, "title": null, "symbolType": "stroke", "symbolSize": 784, "symbolStrokeWidth": 2, "labelFont": "DejaVu Sans", "labelFontSize": 21, "labelColor": "#333333", "labelLimit": 900, "labelOffset": 10, "rowPadding": 6.5, "padding": 0,
         "labelExpr": "datum.value == 'A' ? 'sin²(2Θ₂₃)=1 Uₑ₃=0\u00a0\u00a0\u00a0\u00a0Δm²₂₁=7×10⁻⁵eV²' : datum.value == 'B' ? 'sin²(2Θ₂₃)=1 Uₑ₃=0.2 Δm²₂₁=0' : 'sin²(2Θ₂₃)=1 Uₑ₃=0.2 Δm²₂₁=7×10⁻⁵eV²'"}},
     "order": {"field": "k", "type": "quantitative"}}},
   {"data": {"values": [{}]}, "mark": {"type": "text", "text": "Multi--GeV", "font": "Liberation Sans", "fontWeight": "bold", "fontSize": 38, "align": "left", "baseline": "alphabetic", "color": "black"},
    "encoding": {"x": {"datum": 0.0501, "type": "quantitative", "axis": null}, "y": {"datum": 1.1556, "type": "quantitative", "axis": null}}},
   {"data": {"values": [{}]}, "mark": {"type": "text", "text": "θ", "font": "Liberation Sans", "fontSize": 34, "align": "left", "baseline": "alphabetic", "color": "black"},
    "encoding": {"x": {"datum": -0.0783, "type": "quantitative", "axis": null}, "y": {"datum": 1.1164, "type": "quantitative", "axis": null}}},
   {"data": {"values": [{}]}, "mark": {"type": "text", "text": "13", "font": "Liberation Sans", "fontSize": 28, "align": "left", "baseline": "alphabetic", "color": "black"},
    "encoding": {"x": {"datum": -0.0031, "type": "quantitative", "axis": null}, "y": {"datum": 1.1113, "type": "quantitative", "axis": null}}},
   {"data": {"values": [{}]}, "mark": {"type": "text", "text": "Interference", "font": "Liberation Sans", "fontSize": 38, "align": "left", "baseline": "alphabetic", "color": "black"},
    "encoding": {"x": {"datum": -0.1565, "type": "quantitative", "axis": null}, "y": {"datum": 1.0556, "type": "quantitative", "axis": null}}},
   {"data": {"values": [{}]}, "mark": {"type": "point", "shape": "M0,-1L0.125,-0.583L0.065,-0.583L0.065,0.583L0.125,0.583L0,1L-0.125,0.583L-0.065,0.583L-0.065,-0.583L-0.125,-0.583Z", "size": 46656, "filled": true, "opacity": 1, "stroke": "black", "strokeWidth": 1.5,
     "fill": {"gradient": "linear", "x1": 0, "y1": 0, "x2": 1, "y2": 0, "stops": [{"offset": 0, "color": "#1fae3c"}, {"offset": 1, "color": "#3a4aa0"}]}},
    "encoding": {"x": {"datum": -0.7256, "type": "quantitative", "axis": null}, "y": {"datum": 1.05389, "type": "quantitative", "axis": null}}},
   {"data": {"values": [{}]}, "mark": {"type": "point", "shape": "M0,-0.64L1,-0.43L0.34,-0.43L0.34,0.43L1,0.43L0,0.64L-1,0.43L-0.34,0.43L-0.34,-0.43L-1,-0.43Z", "size": 1414, "filled": true, "opacity": 1, "stroke": "black", "strokeWidth": 1.5,
     "fill": {"gradient": "linear", "x1": 0, "y1": 0, "x2": 1, "y2": 0, "stops": [{"offset": 0, "color": "#58a010"}, {"offset": 1, "color": "#e06010"}]}},
    "encoding": {"x": {"datum": -0.3158, "type": "quantitative", "axis": null}, "y": {"datum": 1.06046, "type": "quantitative", "axis": null}}},
   {"data": {"values": [{}]}, "mark": {"type": "rule", "color": "black", "strokeWidth": 1.5},
    "encoding": {"x": {"datum": -0.1763, "type": "quantitative", "axis": null}, "y": {"datum": 1.115, "type": "quantitative", "axis": null}, "x2": {"datum": -0.623}, "y2": {"datum": 1.0782}}},
   {"data": {"values": [{}]}, "mark": {"type": "point", "shape": "M0,-1L0.42,0.6L-0.42,0.6Z", "size": 564, "angle": 236.3, "filled": true, "opacity": 1, "color": "black"},
    "encoding": {"x": {"datum": -0.6418, "type": "quantitative", "axis": null}, "y": {"datum": 1.0739, "type": "quantitative", "axis": null}}},
   {"data": {"values": [{}]}, "mark": {"type": "text", "text": "Effect", "font": "Liberation Serif", "fontWeight": "bold", "fontSize": 27, "angle": 270, "align": "right", "baseline": "middle", "color": "black"},
    "encoding": {"x": {"datum": -1.2713, "type": "quantitative", "axis": null}, "y": {"datum": 1.2, "type": "quantitative", "axis": null}}},
   {"data": {"values": [{}]}, "mark": {"type": "text", "text": "cosΘ", "font": "Liberation Serif", "fontWeight": "bold", "fontSize": 27, "align": "right", "baseline": "alphabetic", "color": "black"},
    "encoding": {"x": {"datum": 1.0, "type": "quantitative", "axis": null}, "y": {"datum": 0.872, "type": "quantitative", "axis": null}}}
  ]
 }
]
}
